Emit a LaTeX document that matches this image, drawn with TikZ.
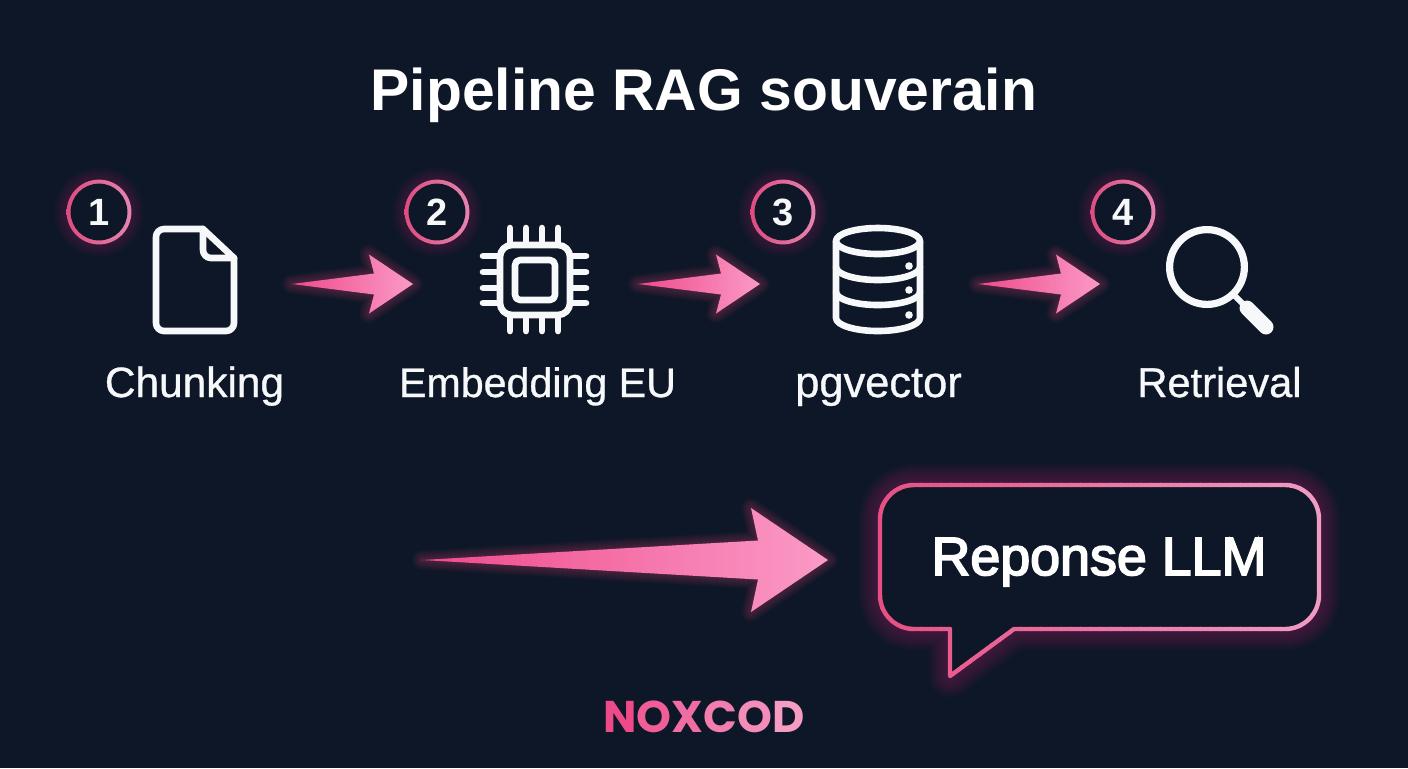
\documentclass[tikz,border=0pt]{standalone}
\usepackage{fontspec}
\setmainfont{Liberation Sans}
\newfontfamily\medfont[RawFeature={embolden=3.2}]{Liberation Sans}
\newfontfamily\lblfont[RawFeature={embolden=0.8}]{Liberation Sans}
\newfontfamily\popfont{Poppins}[BoldFont={Poppins Bold}]
\definecolor{bgc}{HTML}{0D1727}
\definecolor{glowc}{HTML}{E8407F}
\definecolor{pinkA}{HTML}{EE4A8A}
\definecolor{pinkB}{HTML}{FB9AC6}
\definecolor{ringA}{HTML}{DE4C80}
\definecolor{ringB}{HTML}{E684B0}
\definecolor{bubA}{HTML}{E64F82}
\definecolor{bubB}{HTML}{EF9BC4}
\definecolor{inkc}{HTML}{F6F8FA}
\tikzset{
  iconline/.style={draw=inkc,line width=3.3pt,line join=round,line cap=round},
  pinline/.style={draw=inkc,line width=3.3pt,line cap=round},
  steplabel/.style={anchor=base,inner sep=0pt,text=inkc},
  badgetext/.style={anchor=base,inner sep=0pt,text=inkc,font=\fontsize{19}{22}\selectfont\bfseries},
  titletext/.style={anchor=base,inner sep=0pt,text=white,font=\fontsize{29.4}{34}\selectfont\bfseries},
  bubbletext/.style={anchor=base,inner sep=0pt,text=white,font=\fontsize{26.9}{31}\selectfont\medfont},
  brandtext/.style={anchor=base,inner sep=0pt,font=\fontsize{22.2}{26}\selectfont\popfont\bfseries}
}
\newcommand{\lblsize}[1]{\fontsize{#1}{25}\selectfont\lblfont}
\newcommand{\fatarrow}[6]{% start, length, barb x, barb half height, neck x, neck half height
  \begin{scope}[shift={(#1)}]
    \def\arrowshape{(0,0) -- (#5,-#6) -- (#3,-#4) -- (#2,0) -- (#3,#4) -- (#5,#6) -- cycle}
    \foreach \w in {2,4,...,20}{
      \draw[glowc,line width=\w*0.5pt,opacity=0.03,line join=round] \arrowshape;
    }
    \shade[left color=pinkA,right color=pinkB] \arrowshape;
  \end{scope}
}
\newcommand{\stepbadge}[3]{% name, x, digit
  \foreach \w in {2,4,...,28}{
    \draw[glowc,line width=\w*0.5pt,opacity=0.016] (#2,212) circle [radius=15.7pt];
  }
  \shade[left color=ringA,right color=ringB] (#2,212) circle [radius=16.2pt];
  \fill[bgc] (#2,212) circle [radius=14.2pt];
  \node[badgetext] (#1) at (#2,225.5) {#3};
}
\newcommand{\bubblepath}{(1014,629) [rounded corners=17pt]-- (1319,629) -- (1319,485) -- (880,485) -- (880,629) [sharp corners]-- (950,629) -- (950,676) -- cycle}
\begin{document}
\begin{tikzpicture}[x=0.5pt,y=-0.5pt]
\useasboundingbox (0,0) rectangle (1408,768);
\fill[bgc] (0,0) rectangle (1408,768);

% title
\node[titletext] (title) at (704,110) {Pipeline RAG souverain};

% badges
\stepbadge{b1}{99}{1}
\stepbadge{b2}{437}{2}
\stepbadge{b3}{783}{3}
\stepbadge{b4}{1123}{4}

% document icon
\draw[iconline,rounded corners=4pt] (203,229) -- (156,229) -- (156,331) -- (234,331) -- (234,258);
\draw[iconline] (203,229) -- (234,258);
\draw[iconline,rounded corners=4pt] (203,229) -- (203,258) -- (234,258);

% chip icon
\draw[iconline,rounded corners=6pt] (500,245) rectangle (570,315);
\draw[iconline,rounded corners=2.5pt] (515,260) rectangle (555,300);
\foreach \p in {510,526,542,558}{
  \draw[pinline] (\p,228) -- (\p,243);
  \draw[pinline] (\p,317) -- (\p,331);
}
\foreach \p in {256,272,288,303}{
  \draw[pinline] (483,\p) -- (498,\p);
  \draw[pinline] (572,\p) -- (586,\p);
}

% database icon
\draw[iconline] (878,241) ellipse [x radius=21pt,y radius=6.5pt];
\draw[iconline] (836,241) -- (836,318) arc [start angle=180,end angle=360,x radius=21pt,y radius=6.5pt] -- (920,241);
\draw[iconline] (836,267) arc [start angle=180,end angle=360,x radius=21pt,y radius=6.5pt];
\draw[iconline] (836,292) arc [start angle=180,end angle=360,x radius=21pt,y radius=6.5pt];
\foreach \p in {266,290,315}{ \fill[inkc] (909,\p) circle [radius=1.9pt]; }

% magnifier icon
\draw[draw=inkc,line width=3.6pt] (1207,267) circle [radius=18.7pt];
\draw[draw=inkc,line width=3pt] (1233,294) -- (1248,309);
\draw[draw=inkc,line width=7.5pt,line cap=round] (1247,308) -- (1266,327);

% labels
\node[steplabel,font=\lblsize{21.2}] (l1) at (194.5,397) {Chunking};
\node[steplabel,font=\lblsize{20.6}] (l2) at (537.5,397) {Embedding EU};
\node[steplabel,font=\lblsize{21.7}] (l3) at (878.5,397) {pgvector};
\node[steplabel,font=\lblsize{20.8}] (l4) at (1219.5,397) {Retrieval};

% arrows
\coordinate (s1) at (292,284);
\coordinate (s2) at (638,284);
\coordinate (s3) at (978,284);
\coordinate (s4) at (422,560);
\fatarrow{s1}{121}{77}{29.5}{82}{10.5}
\fatarrow{s2}{122}{78}{29.5}{83}{10.5}
\fatarrow{s3}{122}{78}{29.5}{83}{10.5}
\fatarrow{s4}{406}{329}{52}{336}{19.5}

% bubble
\foreach \w in {2,4,...,44}{
  \draw[glowc,line width=\w*0.5pt,opacity=0.014,line join=round] \bubblepath;
}
\fill[bgc] \bubblepath;
\foreach \i in {0,...,44}{
  \pgfmathsetmacro{\mixv}{100-100*\i/44}
  \begin{scope}
    \clip (870+\i*10,470) rectangle (881+\i*10,690);
    \draw[bubA!\mixv!bubB,line width=2.2pt,line join=round] \bubblepath;
  \end{scope}
}
\node[bubbletext] (resp) at (1099,575) {Reponse LLM};

% brand
\node[brandtext] (brand) at (704,732) {\textcolor[HTML]{EE4A8A}{N}\textcolor[HTML]{EF5E97}{O}\textcolor[HTML]{F06DA3}{X}\textcolor[HTML]{F27DAF}{C}\textcolor[HTML]{F38CB8}{O}\textcolor[HTML]{F59CC2}{D}};
\end{tikzpicture}
\end{document}
